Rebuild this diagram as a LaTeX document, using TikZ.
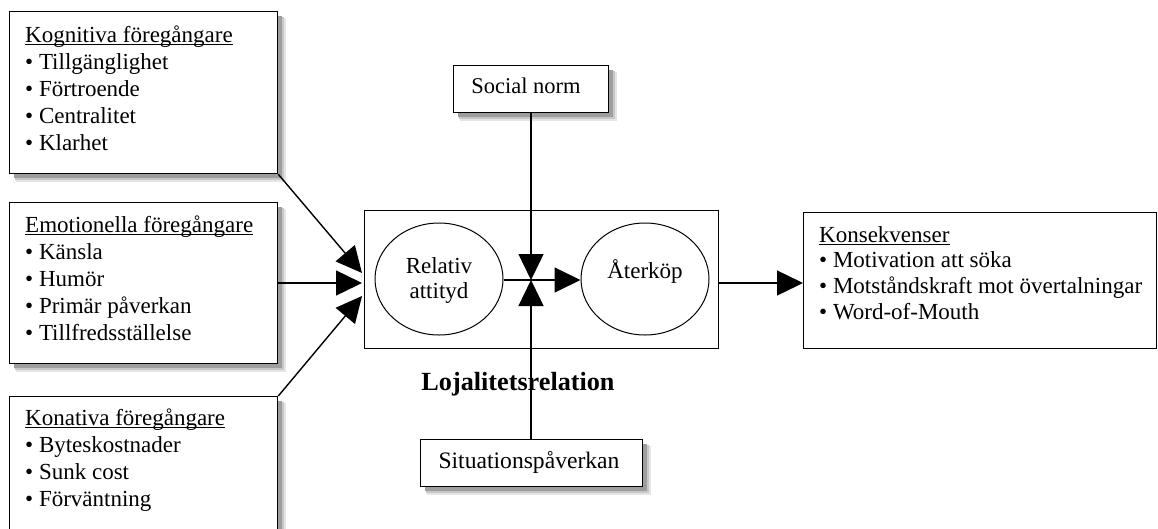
\documentclass[tikz,border=0pt]{standalone}
\usepackage{fontspec}
\setmainfont{Liberation Serif}
\usetikzlibrary{arrows.meta,shapes.geometric}

% underline sitting just below the baseline
\newcommand\headul[1]{\setbox0\hbox{#1}\rlap{\rule[-2.4pt]{\wd0}{1pt}}\box0}

% soft shadow below a box given by its corners (x1,y1) and (x2,y2)
\newcommand\softshadow[4]{%
  \fill[black!10] (#1+7,#2+7) rectangle (#3+9,#4+9);
  \fill[black!22] (#1+6,#2+6) rectangle (#3+7,#4+7);
  \fill[black!38] (#1+5,#2+5) rectangle (#3+4.5,#4+4.5);}

\tikzset{
  box/.style={draw, line width=1.3pt, fill=white, anchor=north west, inner sep=0pt},
  oval/.style={draw, line width=1pt, ellipse, minimum width=128pt, minimum height=112pt,
      inner sep=0pt},
  ovaltext/.style={anchor=base, inner sep=0pt, font=\fontsize{23}{27}\selectfont},
  listtext/.style={anchor=north west, inner sep=0pt, align=left,
      font=\fontsize{23}{27}\selectfont},
  linetext/.style={anchor=base, inner sep=0pt},
  conn/.style={line width=1.4pt},
  tip/.style={-{Triangle[length=26pt,width=25pt]}},
}

\begin{document}
\begin{tikzpicture}[x=1pt,y=-1pt]
\useasboundingbox (0,0) rectangle (1158,528);
\clip (0,0) rectangle (1158,528);

% shadows, drawn before the boxes
\softshadow{9}{11}{277}{173}
\softshadow{9}{202}{277}{363}
\softshadow{9}{396}{277}{580}
\softshadow{453}{65}{608}{112}
\softshadow{420}{439}{642}{486}

% left group of antecedents
\node[box, minimum width=268pt, minimum height=162pt] (kog) at (9,11) {};
\node[listtext] (kogt) at (25,26) {\headul{Kognitiva föregångare}\\• Tillgänglighet\\• Förtroende\\• Centralitet\\• Klarhet};

\node[box, minimum width=268pt, minimum height=161pt] (emo) at (9,202) {};
\node[listtext] (emot) at (25,216) {\headul{Emotionella föregångare}\\• Känsla\\• Humör\\• Primär påverkan\\• Tillfredsställelse};

\node[box, minimum width=268pt, minimum height=170pt] (kon) at (9,396) {};
\node[listtext] (kont) at (25,409) {\headul{Konativa föregångare}\\• Byteskostnader\\• Sunk cost\\• Förväntning};

% loyalty relation
\node[box, minimum width=354pt, minimum height=138pt] (rel) at (364,210) {};
\node[oval] (att) at (439,279) {};
\node[ovaltext] (att1) at (439,273) {Relativ};
\node[ovaltext] (att2) at (439,298) {attityd};
\node[oval] (ater) at (645,279) {};
\node[ovaltext] (ater1) at (645,278) {Återköp};
\node[linetext, font=\bfseries\fontsize{26.2}{28}\selectfont] (lojt) at (518,390) {Lojalitetsrelation};

% moderators
\node[box, minimum width=155pt, minimum height=47pt] (soc) at (453,65) {};
\node[linetext, font=\fontsize{22.5}{25}\selectfont] (soct) at (526,93) {Social norm};
\node[box, minimum width=222pt, minimum height=47pt] (sit) at (420,439) {};
\node[linetext, font=\fontsize{23.6}{25}\selectfont] (sitt) at (529,468) {Situationspåverkan};

% consequences
\node[box, minimum width=353pt, minimum height=136pt] (kons) at (803,212) {};
\node[listtext, font=\fontsize{23}{25.7}\selectfont] (konst) at (819,226) {\headul{Konsekvenser}\\• Motivation att söka\\• Motståndskraft mot övertalningar\\• Word-of-Mouth};

% connectors
\coordinate (mid) at (531,280);
\draw[conn, tip] (kog.south east) -- (362,273);
\draw[conn, tip] (emo.east |- 0,283) -- (362,283);
\draw[conn, tip] (kon.north east) -- (362,296);
\draw[conn, tip] (soc.south -| mid) -- (mid);
\draw[conn, tip] (sit.north -| mid) -- (mid);
\draw[conn, tip] (att.east |- mid) -- (ater.west |- mid);
\draw[conn, tip] (rel.east |- 0,283) -- (kons.west |- 0,283);
\end{tikzpicture}
\end{document}
